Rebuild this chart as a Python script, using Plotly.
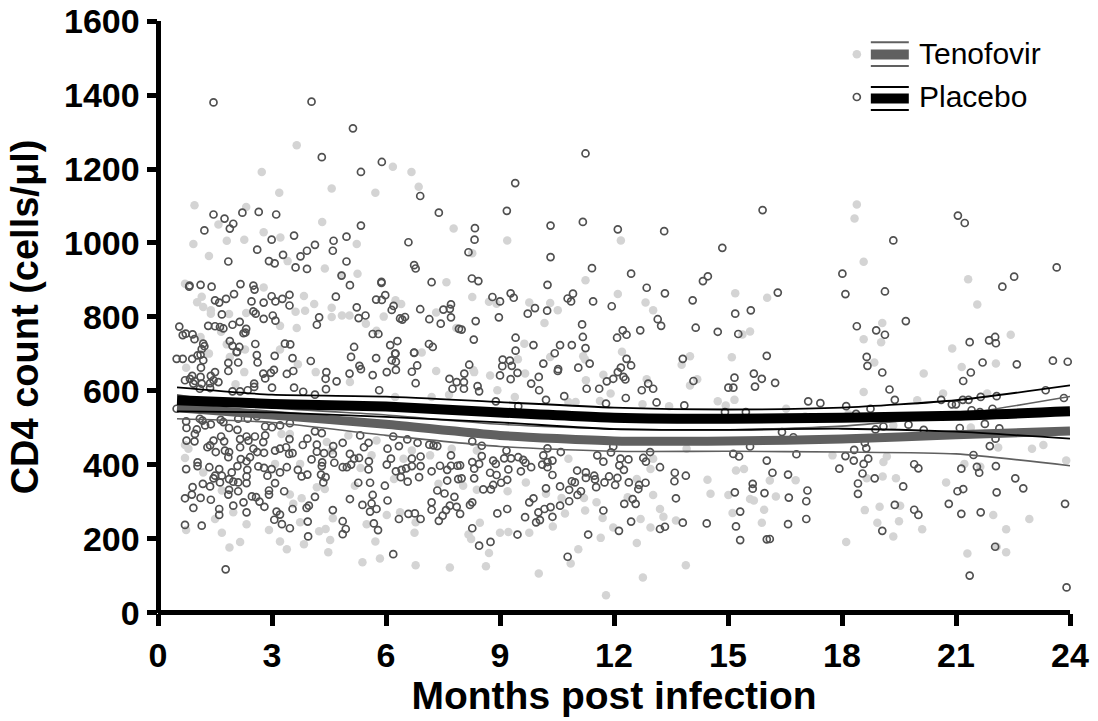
import plotly.graph_objects as go

# (months post infection, CD4 count)
placebo_points = [
(1.46,1380),(4.04,1382),(5.13,1310),(4.31,1232),(5.89,1219),(5.34,1192),(6.90,1127),(7.39,1082),(1.46,1077),(1.75,1066),
(2.22,1082),(2.65,1084),(3.11,1077),(1.98,1052),(1.89,1039),(1.22,1034),(5.34,1047),(3.58,1020),(2.99,1009),(4.96,1017),
(4.62,1006),(4.60,979),(6.59,1002),(4.13,995),(3.92,979),(3.75,964),(3.29,968),(2.61,982),(1.85,950),(2.92,951),
(3.07,945),(3.62,934),(3.92,930),(4.96,950),(4.83,912),(5.05,886),(6.74,940),(6.78,931),(5.88,895),(5.88,892),(7.20,894),
(0.82,882),(0.83,885),(1.12,887),(1.41,882),(2.17,889),(2.51,885),(2.54,874),(2.0,862),(1.79,849),(1.5,845),(1.61,839),
(2.46,842),(2.78,839),(2.99,856),(3.09,842),(3.27,849),(3.46,860),(3.46,831),(4.68,855),(5.98,859),(5.74,847),(5.89,846),
(5.23,826),(6.20,830),(6.15,819),(6.90,821),(7.71,834),(7.68,822),(7.51,820),(1.68,807),(2.51,815),(2.57,809),(2.78,795),
(3.02,804),(3.09,790),(2.15,787),(4.24,799),(4.18,779),(5.46,804),(5.28,797),(6.37,796),(6.5,800),(6.43,793),(7.14,794),
(7.71,799),(7.44,782),(7.92,768),(1.32,776),(1.5,775),(1.63,773),(1.72,769),(1.96,779),(2.32,768),(2.25,756),(2.3,758),
(0.56,774),(0.73,755),(0.65,751),(0.91,753),(0.96,740),(5.65,754),(5.80,754),(6.30,735),(6.11,724),(7.13,727),(7.23,719),
(5.16,719),(6.24,701),(6.74,704),(1.89,735),(1.96,722),(2.14,719),(2.56,727),(3.34,728),(3.48,726),(1.19,728),(1.22,721),
(1.15,713),(2.08,706),(0.49,687),(0.65,687),(0.90,687),(1.04,696),(1.12,698),(1.19,683),(1.13,663),(2.6,697),(2.07,705),
(1.85,676),(2.11,677),(1.85,654),(2.62,677),(3.07,695),(3.54,689),(4.02,681),(5.08,692),(5.74,689),(6.15,683),(6.26,679),
(6.25,701),(6.74,703),(5.30,668),(5.34,659),(5.65,643),(6.02,651),(6.26,657),(6.68,652),(6.82,669),(5.04,647),(4.70,626),
(4.43,651),(4.41,633),(4.42,605),(3.39,646),(3.56,654),(3.05,657),(2.97,649),(2.77,647),(2.82,634),(3.0,609),(3.58,609),
(3.82,598),(4.13,590),(2.53,620),(2.53,611),(1.59,624),(1.5,651),(1.39,641),(1.46,629),(1.37,621),(0.71,629),(0.90,641),
(0.84,633),(0.97,627),(1.12,638),(1.15,620),(0.93,620),(1.10,606),(1.37,608),(6.78,621),(7.67,633),(7.75,606),(7.86,624),
(5.82,602),(1.96,599),(2.16,599),(2.36,602),(0.49,552),(0.74,518),(0.75,500),(1.02,496),(0.97,484),(0.75,466),(0.96,464),
(1.1,525),(1.17,520),(1.39,510),(1.24,507),(1.65,522),(1.72,516),(1.87,500),(2.09,495),(2.11,525),(2.36,525),(2.6,531),
(2.82,504),(3.0,502),(3.21,507),(3.47,513),(1.66,477),(1.46,466),(1.74,464),(1.37,453),(1.3,448),(1.52,435),(1.76,439),
(2.16,470),(2.33,477),(2.55,477),(2.38,466),(2.77,462),(2.82,480),(2.16,448),(1.87,435),(1.85,421),(2.18,416),(2.51,444),
(2.61,435),(2.79,433),(2.42,421),(2.33,410),(3.08,439),(3.21,444),(3.37,448),(3.46,470),(3.45,430),(3.54,432),(3.81,454),
(3.93,471),(4.13,491),(4.31,486),(4.18,455),(4.18,436),(4.37,432),(4.6,430),(4.61,451),(4.04,415),(4.32,407),(4.31,397),
(4.64,406),(4.86,394),(4.97,394),(5.08,401),(5.05,430),(5.16,417),(5.29,419),(4.86,460),(5.32,480),(5.42,448),(5.54,460),
(5.55,410),(5.54,388),(6.04,444),(6.13,417),(6.02,401),(6.19,477),(6.34,451),(6.56,469),(6.83,460),(7.14,455),(7.25,453),
(7.35,451),(7.71,426),(6.91,423),(6.68,417),(6.68,397),(6.91,397),(6.53,391),(6.41,387),(6.26,383),(6.39,367),(6.57,355),
(6.87,367),(7.2,383),(7.42,398),(7.61,387),(7.71,398),(7.88,398),(7.61,358),(7.9,362),(5.97,344),(5.58,352),(5.27,352),
(0.74,389),(1.04,407),(1.04,397),(1.35,394),(1.61,389),(2.09,397),(2.35,387),(2.64,396),(2.79,392),(2.99,389),(3.39,394),
(3.21,380),(3.68,387),(2.88,371),(2.33,369),(1.94,380),(1.68,371),(1.5,371),(1.46,364),(1.63,353),(1.87,362),(1.98,355),
(2.11,353),(2.33,351),(1.37,342),(1.18,349),(0.91,340),(0.89,320),(0.71,310),(0.93,284),(1.12,311),(1.39,306),(1.85,320),
(1.87,333),(2.11,329),(3.08,351),(2.92,331),(2.92,320),(3.32,329),(2.47,315),(2.58,313),(2.25,299),(1.98,290),(2.67,301),
(2.8,287),(1.61,281),(1.61,265),(2.33,272),(3.12,274),(3.21,266),(3.06,252),(3.26,240),(3.47,229),(3.54,281),(3.91,284),
(3.97,290),(4.13,314),(3.94,247),(3.95,207),(0.71,238),(1.15,236),(1.78,118),(3.78,369),(3.93,374),(4.29,374),(4.41,367),
(4.35,353),(5.05,308),(5.38,292),(5.65,319),(5.62,296),(5.75,281),(6.04,304),(5.58,274),(4.6,278),(4.86,248),(4.94,227),
(4.86,213),(5.68,242),(5.79,224),(6.19,159),(6.34,254),(6.59,268),(6.76,269),(6.91,254),(7.35,331),(7.54,323),(7.8,314),
(7.2,299),(7.2,279),(7.39,249),(7.49,263),(7.58,278),(7.68,290),(7.86,287),
(11.25,1242),(9.40,1162),(9.18,1087),(15.91,1089),(8.34,1040),(8.33,1009),(8.17,975),(10.33,1047),(11.18,1057),(12.10,1037),
(13.32,1032),(14.85,987),(10.33,962),(11.42,932),(12.45,917),(14.47,910),(14.34,897),(8.26,904),(8.43,897),(10.25,887),
(12.86,879),(13.34,864),(8.8,854),(9.0,842),(9.28,864),(9.36,852),(10.92,863),(10.78,850),(10.87,842),(11.45,842),(11.94,829),
(14.07,845),(15.19,809),(15.6,818),(9.92,824),(9.73,809),(10.24,817),(8.97,799),(8.36,789),(7.99,766),(8.31,739),(11.16,780),
(11.18,746),(13.15,794),(13.24,776),(14.15,771),(14.73,760),(15.27,754),(12.69,764),(12.23,764),(12.33,752),(12.08,744),
(9.41,744),(9.88,724),(9.41,709),(10.58,724),(10.89,724),(11.25,716),(10.44,702),(10.14,674),(9.07,685),(9.26,682),(9.06,667),
(9.31,668),(8.19,671),(11.36,674),(12.33,687),(12.45,669),(12.18,663),(13.81,687),(16.02,695),(11.06,663),(10.53,659),
(8.06,647),(8.05,624),(8.05,606),(8.41,613),(8.45,599),(9.0,642),(9.28,632),(9.46,649),(10.02,638),(9.82,620),(10.03,602),
(10.21,576),(10.69,586),(10.52,654),(11.28,606),(11.61,606),(11.81,626),(11.98,633),(12.1,651),(12.25,638),(12.3,631),(12.31,581),
(11.79,566),(12.73,602),(12.9,620),(13.03,606),(13.12,569),(13.85,561),(14.09,627),(15.01,609),(15.14,609),(15.71,612),(15.17,636),
(15.68,647),(15.89,633),(8.89,572),(9.48,559),(14.92,543),(15.47,543),(8.27,464),(8.52,452),(9.17,439),(10.25,445),(10.6,435),
(11.92,434),(11.98,450),(12.95,435),(8.52,424),(8.27,408),(8.45,403),(8.32,390),(7.95,399),(8.82,412),(8.89,403),(9.11,418),
(9.29,418),(9.48,421),(9.61,414),(9.67,406),(9.82,394),(9.55,383),(9.22,388),(8.74,379),(8.91,373),(8.32,364),(7.99,364),
(9.19,360),(9.03,352),(8.82,346),(8.76,334),(8.56,334),(10.14,426),(10.11,401),(10.25,408),(10.38,412),(10.25,394),(10.38,373),
(10.21,337),(10.58,342),(11.56,426),(11.72,409),(11.03,385),(11.26,380),(11.48,371),(11.26,365),(11.5,361),(11.87,369),(11.75,353),
(12.09,365),(12.03,346),(11.53,340),(10.89,356),(10.97,353),(10.82,333),(11.13,329),(11.04,319),(10.82,302),(10.58,290),(12.17,417),
(12.14,399),(12.38,415),(12.26,387),(12.77,419),(12.84,409),(13.21,394),(13.6,379),(13.89,371),(13.59,356),(12.83,352),(12.66,346),
(12.64,335),(12.39,353),(13.63,310),(12.49,308),(12.57,295),(12.27,295),(11.72,277),(12.45,247),(12.13,222),(11.32,212),(13.81,244),
(14.44,242),(13.21,227),(13.34,233),(15.18,326),(15.65,349),(15.65,336),(15.96,324),(15.32,274),(15.21,234),(15.32,197),(16.02,412),
(16.02,199),(15.14,430),(15.29,423),(15.58,450),(9.77,299),(9.88,310),(10.33,286),(10.17,281),(10.01,272),(10.38,260),(9.66,259),
(10.05,251),(9.95,245),(9.19,281),(8.93,269),(8.27,299),(8.21,292),(7.95,268),(8.27,229),(9.46,212),(8.75,192),(8.45,182),(10.78,152),
(21.05,1074),(21.23,1054),(19.35,1007),(23.65,934),(22.53,909),(22.22,882),(18.01,917),(18.09,862),(19.13,869),(16.31,866),(19.68,789),
(18.39,775),(18.9,764),(19.13,752),(21.36,732),(21.87,737),(22.03,746),(22.05,729),(21.7,677),(22.6,672),(23.55,682),(23.94,679),
(18.65,692),(18.67,668),(19.06,650),(21.39,650),(21.19,627),(16.24,622),(19.25,604),(19.39,576),(17.11,572),(17.43,567),(18.11,559),
(20.61,576),(20.89,564),(21.0,564),(21.18,576),(21.33,576),(21.65,584),(22.07,586),(23.36,602),(23.84,581),(18.75,552),(18.37,538),
(21.41,548),(21.96,552),(21.63,543),(19.75,509),(19.09,504),(18.88,496),(20.15,495),(21.1,500),(21.76,511),(22.14,499),(22.04,471),
(21.89,451),(16.42,489),(16.72,475),(16.8,429),(18.32,441),(18.64,445),(18.6,460),(18.09,424),(18.31,412),(18.69,417),(18.57,403),
(17.93,390),(18.54,377),(18.86,364),(18.42,350),(18.42,322),(16.17,379),(16.58,374),(17.09,331),(17.06,302),(16.6,312),(17.06,254),
(16.58,240),(16.1,200),(19.9,402),(20.01,391),(21.46,427),(21.14,390),(21.55,395),(21.61,379),(22.05,397),(22.56,364),(22.77,337),
(22.07,326),(21.19,335),(21.04,329),(19.61,342),(19.39,292),(19.9,279),(20.01,265),(20.81,295),(21.14,268),(21.65,272),(23.87,295),
(19.06,222),(22.03,179),(21.36,101),(23.91,69),
]

tenofovir_points = [
(3.65,1264),(2.73,1192),(3.19,1136),(4.57,1147),(5.72,1136),(6.18,1206),(6.67,1192),(6.86,1152),(7.78,1039),(0.96,1102),(2.32,1097),
(1.59,1050),(4.32,1057),(2.78,1029),(3.22,1015),(1.81,1006),(2.27,1009),(0.93,997),(1.34,965),(5.23,997),(3.41,951),(4.39,931),
(5.25,917),(4.83,913),(0.71,890),(2.78,880),(7.59,894),(1.15,855),(1.03,840),(1.19,827),(1.39,818),(1.39,809),(1.87,808),(2.32,811),
(3.84,857),(4.11,835),(4.57,825),(3.87,817),(3.62,814),(4.57,800),(4.84,804),(5.04,804),(5.94,801),(5.47,782),(6.25,845),(6.4,835),
(7.32,812),(3.21,776),(3.65,770),(1.66,760),(5.75,763),(1.12,746),(1.81,726),(2.29,712),(3.21,712),(1.34,701),(1.89,692),(6.94,704),
(7.85,770),(0.74,663),(2.27,651),(4.15,651),(3.68,672),(7.32,654),(5.05,624),(2.04,618),(7.66,590),(6.24,584),(7.2,584),(0.71,419),
(0.71,454),(0.8,444),(1.19,380),(3.74,403),(4.18,340),(5.18,344),(4.39,335),(3.47,320),(3.78,310),(3.56,295),(3.08,403),(3.25,484),
(3.47,484),(1.68,331),(1.98,272),(1.5,254),(2.33,240),(0.74,224),(1.68,217),(2.92,224),(3.74,245),(4.24,221),(4.41,227),(4.6,256),
(3.21,193),(2.16,192),(1.88,177),(3.39,172),(3.84,186),(4.53,197),(4.48,164),(5.72,193),(5.38,137),(5.84,147),(6.78,129),(7.68,123),
(6.75,217),(6.02,265),(5.49,240),(5.62,426),(5.33,392),(6.21,362),(6.68,439),(7.16,426),(6.46,417),(7.38,349),(6.78,245),(6.37,272),
(7.73,444),(5.75,466),(4.57,439),(4.44,462),(5.01,480),
(9.19,1007),(12.18,1007),(8.27,972),(11.25,899),(12.1,862),(8.27,854),(15.19,864),(16.03,852),(8.71,841),(8.91,836),(9.77,839),
(10.32,838),(10.52,818),(12.83,839),(13.03,818),(10.17,784),(9.64,728),(15.58,761),(15.38,753),(9.47,686),(10.32,692),(11.19,694),
(11.24,685),(12.21,706),(14.0,694),(15.1,691),(13.78,671),(8.3,656),(8.74,642),(8.32,651),(9.66,647),(11.26,629),(11.72,644),
(12.86,632),(14.19,632),(14.0,615),(8.93,602),(11.91,593),(9.39,584),(10.8,570),(10.99,570),(11.63,573),(12.75,564),(13.45,559),
(14.73,572),(15.17,576),(14.94,561),(8.39,439),(10.8,417),(13.91,444),(13.03,417),(12.96,389),(9.68,353),(9.2,329),(8.39,333),
(8.03,344),(14.46,360),(14.54,322),(15.01,319),(15.21,385),(15.42,389),(13.03,319),(12.6,362),(10.21,322),(10.62,311),(11.21,311),
(11.54,299),(11.24,277),(11.7,257),(10.71,269),(10.39,234),(9.77,217),(9.22,219),(9.0,217),(8.47,244),(8.17,212),(8.24,200),
(8.71,162),(8.63,126),(10.02,107),(11.06,172),(10.86,134),(11.65,203),(11.98,231),(12.6,189),(12.7,254),(12.96,231),(13.21,281),
(13.3,260),(13.63,250),(12.36,313),(13.89,129),(12.76,96),(11.79,48),(15.58,308),(15.68,304),(15.95,279),(15.12,270),(15.89,244),
(18.39,1104),(18.33,1066),(18.57,949),(21.32,902),(21.56,834),(19.06,784),(18.57,740),(19.03,732),(22.44,752),(20.9,715),(18.85,677),
(21.15,665),(22.05,674),(20.15,647),(18.57,597),(20.66,593),(21.82,593),(19.98,575),(16.53,552),(17.03,531),(18.17,537),(19.35,507),
(21.39,501),(23.9,412),(23.0,444),(23.3,454),(22.11,447),(19.18,423),(19.09,408),(17.75,426),(21.22,403),(21.64,395),(19.07,369),
(19.42,364),(20.74,353),(18.65,364),(16.26,315),(16.78,359),(16.1,358),(18.6,278),(18.99,287),(19.53,290),(19.5,248),(18.93,244),
(20.11,226),(19.35,207),(18.11,192),(21.98,265),(22.93,254),(22.32,226),(22.32,164),(21.3,161),(22.07,179),
]

curve_months = [0.5, 3, 6, 9, 12, 15, 18, 21, 24]
tenofovir_mean = [555, 535, 510, 480, 465, 465, 470, 482, 492]
tenofovir_upper = [590, 555, 535, 510, 498, 495, 505, 535, 585]
tenofovir_lower = [525, 515, 480, 450, 437, 437, 435, 430, 398]
placebo_mean = [575, 565, 558, 542, 528, 525, 528, 533, 545]
placebo_upper = [610, 590, 585, 570, 555, 550, 555, 575, 615]
placebo_lower = [545, 542, 530, 515, 497, 495, 498, 490, 471]

x_ticks = [0, 3, 6, 9, 12, 15, 18, 21, 24]
y_ticks = [0, 200, 400, 600, 800, 1000, 1200, 1400, 1600]
FONT = "Liberation Sans"
LIGHT, DARK, RING = "#d4d4d4", "#606060", "#505050"
L, R, T, B = 157.7, 1070.3, 20.7, 612.7

fig = go.Figure()
fig.add_trace(go.Scatter(x=[p[0] for p in tenofovir_points], y=[p[1] for p in tenofovir_points], mode="markers",
                         marker=dict(size=8.5, color=LIGHT), cliponaxis=False))
fig.add_trace(go.Scatter(x=[p[0] for p in placebo_points], y=[p[1] for p in placebo_points], mode="markers",
                         marker=dict(size=7, color="rgba(0,0,0,0)", line=dict(color=RING, width=1.7)), cliponaxis=False))
for vals, col, w in [(tenofovir_upper, DARK, 1.6), (tenofovir_lower, DARK, 1.6), (tenofovir_mean, DARK, 9),
                     (placebo_upper, "black", 1.8), (placebo_lower, "black", 1.8), (placebo_mean, "black", 10)]:
    fig.add_trace(go.Scatter(x=curve_months, y=vals, mode="lines", line=dict(color=col, width=w, shape="spline", smoothing=0.6)))

axis = dict(showgrid=False, showline=False, zeroline=True, zerolinecolor="black", zerolinewidth=4.5,
            ticks="outside", tickwidth=4.5, tickcolor="black",
            tickfont=dict(family=FONT, size=34, color="black", weight="bold"))
fig.update_layout(
    width=1098, height=721, autosize=False, showlegend=False, plot_bgcolor="white", paper_bgcolor="white",
    margin=dict(l=L, r=1098 - R, t=T, b=721 - B),
    xaxis=dict(range=[-0.0005, 24], tickvals=x_ticks, ticklen=12, automargin="bottom",
               title=dict(text="Months post infection", standoff=5, font=dict(family=FONT, size=39, color="black", weight="bold")), **axis),
    yaxis=dict(range=[-0.05, 1600], tickvals=y_ticks, ticklen=10.5, automargin="left",
               title=dict(text="CD4 count (cells/μl)", standoff=13, font=dict(family=FONT, size=38, color="black", weight="bold")), **axis),
)

# legend key, placed in paper coordinates
def px(x): return (x - L) / (R - L)
def py(y): return (B - y) / (B - T)
def bar(x0, x1, y, col, w):
    fig.add_shape(type="line", xref="paper", yref="paper", x0=px(x0), x1=px(x1), y0=py(y), y1=py(y), line=dict(color=col, width=w))
for ys, col in [((42, 54.3, 65.7), DARK), ((86.7, 98.3, 109.7), "black")]:
    bar(871, 909, ys[0], col, 2)
    bar(871, 909, ys[1], col, 10)
    bar(871, 909, ys[2], col, 2)
fig.add_shape(type="circle", xref="paper", yref="paper", x0=px(852.7), x1=px(861.3), y0=py(49.7), y1=py(58.3), fillcolor=LIGHT, line=dict(width=0))
fig.add_shape(type="circle", xref="paper", yref="paper", x0=px(853.5), x1=px(860.5), y0=py(93.2), y1=py(100.2), fillcolor="white", line=dict(color=RING, width=1.7))
for y, label in [(53.5, "Tenofovir"), (96, "Placebo")]:
    fig.add_annotation(xref="paper", yref="paper", x=px(917), y=py(y), text=label, showarrow=False, xanchor="left", yanchor="middle",
                       xshift=0, font=dict(family=FONT, size=30, color="black"))

fig.write_html("out.html", config={"displayModeBar": False}, post_script="document.body.style.margin='0';")
